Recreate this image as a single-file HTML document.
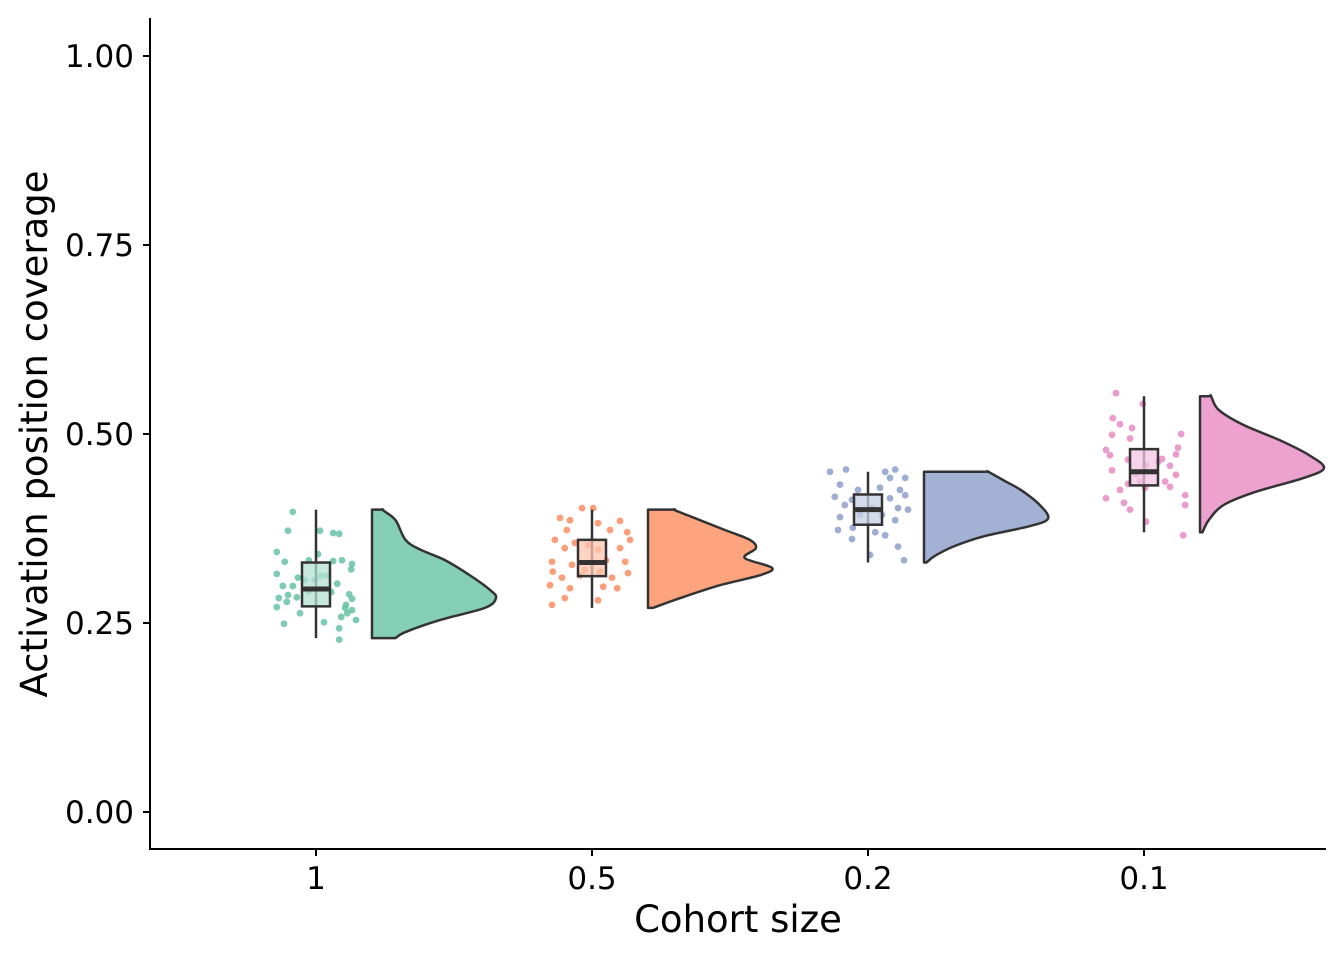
<!DOCTYPE html>
<html><head><meta charset="utf-8"><style>
body{margin:0;background:#fff}
svg{display:block;font-family:"DejaVu Sans","Liberation Sans",sans-serif}
</style></head><body>
<svg id="chart" width="1344" height="960" viewBox="0 0 1344 960"></svg>
<script>
const categories=["1","0.5","0.2","0.1"];
const yTicks=[0,0.25,0.5,0.75,1.0];
const yTickLabels=["0.00","0.25","0.50","0.75","1.00"];
const colors=["#66c2a5","#fc8d62","#8da0cb","#e78ac3"];
const violinFill=["#84cfb6","#fda47f","#a3b1d5","#eca1cf"];
const boxFill=["#b3e0d2","#fdc6b0","#c6d0e5","#f3c5e1"];
// box stats: [whiskerLow, q1, median, q3, whiskerHigh]
const boxStats=[[0.23,0.272,0.295,0.33,0.40],[0.27,0.312,0.33,0.36,0.40],[0.33,0.38,0.40,0.42,0.45],[0.37,0.432,0.45,0.48,0.55]];
// violin density profiles (value, relative width)
const violinV=[
[0.40,0.399,0.386,0.360,0.347,0.333,0.313,0.294,0.283,0.270,0.254,0.238,0.23],
[0.40,0.399,0.386,0.373,0.360,0.349,0.336,0.323,0.313,0.300,0.283,0.270],
[0.45,0.450,0.438,0.425,0.405,0.388,0.378,0.365,0.352,0.339,0.330],
[0.55,0.550,0.532,0.512,0.492,0.472,0.455,0.442,0.423,0.406,0.386,0.370]];
const violinW=[
[0.09,0.09,0.19,0.27,0.39,0.59,0.79,0.95,1.0,0.91,0.55,0.27,0.19],
[0.22,0.22,0.42,0.62,0.82,0.87,0.78,1.0,0.90,0.58,0.26,0.04],
[0.52,0.52,0.65,0.79,0.94,1.0,0.85,0.49,0.25,0.09,0.02],
[0.09,0.09,0.15,0.35,0.64,0.88,1.0,0.84,0.44,0.19,0.07,0.02]];
// jittered raw points: values and jitter (fraction of jitter half-width)
const ptsV=[
[0.397,0.372,0.372,0.369,0.368,0.344,0.341,0.331,0.333,0.332,0.333,0.328,0.321,0.315,0.310,0.307,0.307,0.312,0.313,0.302,0.299,0.299,0.287,0.283,0.278,0.284,0.292,0.291,0.288,0.282,0.271,0.274,0.270,0.263,0.267,0.263,0.258,0.254,0.249,0.251,0.243,0.228],
[0.402,0.402,0.389,0.386,0.382,0.385,0.373,0.373,0.370,0.360,0.356,0.353,0.347,0.360,0.349,0.349,0.331,0.327,0.333,0.331,0.318,0.320,0.318,0.316,0.310,0.313,0.310,0.300,0.296,0.298,0.296,0.283,0.280,0.274],
[0.450,0.453,0.450,0.453,0.442,0.442,0.433,0.426,0.429,0.426,0.417,0.413,0.415,0.419,0.406,0.402,0.402,0.400,0.390,0.393,0.393,0.386,0.373,0.376,0.370,0.366,0.361,0.351,0.340,0.333],
[0.554,0.540,0.521,0.513,0.508,0.499,0.494,0.500,0.479,0.472,0.482,0.473,0.467,0.466,0.463,0.459,0.458,0.452,0.447,0.450,0.446,0.434,0.437,0.437,0.426,0.429,0.430,0.415,0.409,0.419,0.400,0.406,0.384,0.366]];
const ptsJ=[
[-0.58,-0.70,0.10,0.43,0.58,-0.98,0.05,-0.78,-0.18,0.43,0.65,0.90,0.88,-0.98,-0.45,-0.28,-0.03,0.13,0.28,0.53,-0.83,-0.58,-0.70,-0.93,-0.73,-0.48,-0.18,0.38,0.83,0.90,-0.98,0.75,0.73,0.78,0.90,-0.40,0.63,1.0,-0.80,0.20,0.58,0.58],
[-0.25,0.03,-0.80,-0.55,0.15,0.70,-0.63,0.45,0.88,-0.93,-0.43,-0.10,0.15,0.95,-0.68,0.70,-1.0,-0.50,0.35,0.83,-0.98,-0.18,0.20,0.90,-0.75,-0.30,0.50,-1.05,-0.55,0.28,0.63,-0.68,0.15,-1.0],
[-0.95,-0.55,0.43,0.68,0.55,0.93,-0.70,-0.25,0.30,0.80,-0.83,-0.40,0.55,0.93,-0.58,0.10,0.75,1.0,-0.70,-0.20,0.35,0.68,-0.75,-0.38,0.18,0.43,-0.40,0.75,0.05,0.90],
[-0.70,-0.03,-0.78,-0.60,-0.30,-0.80,-0.35,0.93,-0.95,-0.85,0.85,0.80,0.45,-0.40,0.35,0.05,0.65,-0.80,-0.20,0.28,0.80,-0.40,-0.10,0.53,-0.60,0.03,0.65,-0.95,-0.50,1.03,-0.35,1.03,0.05,0.98]];

const NS="http://www.w3.org/2000/svg";
const svg=document.getElementById('chart');
const X0=150,X1=1326,Y0=18,Y1=849;
const yS=v=>812-v*756;
const xS=i=>316+i*276;
function mk(tag,attrs,parent){const e=document.createElementNS(NS,tag);for(const k in attrs)e.setAttribute(k,attrs[k]);(parent||svg).appendChild(e);return e;}
function smooth(pts){
  let d='';
  for(let k=0;k<pts.length-1;k++){
    const p0=pts[Math.max(0,k-1)],p1=pts[k],p2=pts[k+1],p3=pts[Math.min(pts.length-1,k+2)];
    const c1=[p1[0]+(p2[0]-p0[0])/6,p1[1]+(p2[1]-p0[1])/6];
    const c2=[p2[0]-(p3[0]-p1[0])/6,p2[1]-(p3[1]-p1[1])/6];
    d+=' C'+c1[0]+','+c1[1]+' '+c2[0]+','+c2[1]+' '+p2[0]+','+p2[1];
  }
  return d;
}

categories.forEach((c,i)=>{
  const g=mk('g',{});
  
  
  const cx=xS(i);
  ptsV[i].forEach((v,k)=>{
    const p=mk('circle',{cx:cx+ptsJ[i][k]*40,cy:yS(v),r:3.4,fill:colors[i],'fill-opacity':0.85},g);
    
    
  });
  const b=boxStats[i];
  const wl=mk('line',{x1:cx,x2:cx,y1:yS(b[0]),y2:yS(b[4]),stroke:'#333',"stroke-width":2.5},g);
  
  
  const r=mk('rect',{x:cx-14,y:yS(b[3]),width:28,height:yS(b[1])-yS(b[3]),fill:boxFill[i],'fill-opacity':0.75,stroke:'#333','stroke-width':2.5},g);
  
  
  const m=mk('line',{x1:cx-14,x2:cx+14,y1:yS(b[2]),y2:yS(b[2]),stroke:'#333','stroke-width':5},g);
  
  
  const bx=cx+56,W=124;
  const pts=violinV[i].map((v,k)=>[bx+violinW[i][k]*W,yS(v)]);
  let d='M'+bx+','+yS(violinV[i][0])+' L'+pts[0][0]+','+pts[0][1]+smooth(pts);
  d+=' L'+bx+','+yS(violinV[i][violinV[i].length-1])+' Z';
  const vp=mk('path',{d:d,fill:violinFill[i],stroke:'#333','stroke-width':2.5,'stroke-linejoin':'round'},g);
  
  
  const t=mk('line',{x1:cx,x2:cx,y1:Y1,y2:Y1+7,stroke:'#000','stroke-width':2});
  
  
  const tl=mk('text',{x:cx,y:Y1+40,'text-anchor':'middle','font-size':31,fill:'#000'});
  tl.textContent=c;
  
  
});
yTicks.forEach((v,k)=>{
  const t=mk('line',{x1:X0-7,x2:X0,y1:yS(v),y2:yS(v),stroke:'#000','stroke-width':2});
  
  
  const tl=mk('text',{x:X0-16,y:yS(v)+11,'text-anchor':'end','font-size':31,fill:'#000'});
  tl.textContent=yTickLabels[k];
  
  
});
const ya=mk('line',{x1:X0,x2:X0,y1:Y0,y2:Y1,stroke:'#000','stroke-width':2});


const xa=mk('line',{x1:X0-1,x2:X1,y1:Y1,y2:Y1,stroke:'#000','stroke-width':2});


const xt=mk('text',{x:738,y:932,'text-anchor':'middle','font-size':37,fill:'#000'});
xt.textContent='Cohort size';


const yt=mk('text',{x:0,y:0,'text-anchor':'middle','font-size':37,fill:'#000',transform:'translate(47,434) rotate(-90)'});
yt.textContent='Activation position coverage';


</script>
</body></html>
